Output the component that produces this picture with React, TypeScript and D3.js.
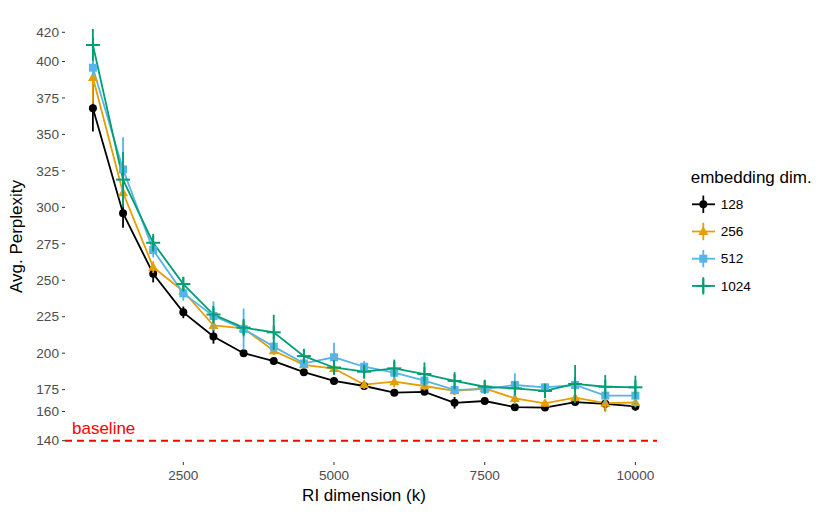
import * as d3 from 'd3';

// RI dimension (k) on the x axis
const riDims = [1000, 1500, 2000, 2500, 3000, 3500, 4000, 4500, 5000, 5500, 6000, 6500, 7000, 7500, 8000, 8500, 9000, 9500, 10000];

const embeddingDims = ['128', '256', '512', '1024'];

// mean perplexity per series
const mean128 = [368, 296, 254.5, 228, 211.5, 200, 194.6, 187, 181, 177.5, 172.9, 173.5, 166, 167.2, 163, 162.7, 166.5, 165.3, 163.5];
const mean256 = [389, 310, 259, 242.5, 219, 217, 201.7, 192, 189.5, 178.5, 180.5, 177.5, 174.2, 175.8, 169, 165.6, 169.5, 165.7, 166.2];
const mean512 = [395.7, 326, 270.7, 241, 225.5, 216.6, 204.5, 193, 197.2, 190.7, 186.6, 181.2, 174.8, 175.3, 178.2, 176.6, 178.2, 170.9, 170.9];
const mean1024 = [411.3, 319, 275.7, 247.4, 226.5, 217.5, 214.3, 198, 190.2, 187.3, 189.6, 185.7, 181, 177, 175.9, 174.1, 178.9, 177, 176.6];

// spread (error bar half height) per series
const err128 = [16, 10, 6, 4, 5, 2, 2, 2, 2, 2, 2, 2, 4, 2, 2, 2, 2, 5, 3];
const err256 = [18, 8, 4, 3, 3, 4, 3, 2, 3, 3, 4, 3, 3, 3, 4, 2, 3, 6, 3];
const err512 = [5, 22, 5, 5, 10, 14, 4, 3, 10, 4, 4, 4, 3, 3, 8, 3, 5, 5, 8];
const err1024 = [11, 19, 6, 5, 6, 6, 12, 5, 5, 4, 6, 8, 6, 4, 3, 4, 13, 8, 8];

const baselineValue = 140;

const yTicks = [140, 160, 175, 200, 225, 250, 275, 300, 325, 350, 375, 400, 420];
const xTicks = [2500, 5000, 7500, 10000];

const colors = ['#000000', '#E69F00', '#56B4E9', '#009E73'];
const means = [mean128, mean256, mean512, mean1024];
const errs = [err128, err256, err512, err1024];

const WIDTH = 830;
const HEIGHT = 514;
const FONT = '"Liberation Sans", Arial, Helvetica, sans-serif';

function Marker({ kind, x, y, color }: { kind: number; x: number; y: number; color: string }) {
  if (kind === 0) return <circle cx={x} cy={y} r={4} fill={color} />;
  if (kind === 1) {
    const s = 5;
    return (
      <path
        d={`M${x},${y - s * 1.05} L${x + s},${y + s * 0.7} L${x - s},${y + s * 0.7} Z`}
        fill={color}
      />
    );
  }
  if (kind === 2) return <rect x={x - 4} y={y - 4} width={8} height={8} fill={color} />;
  return (
    <g stroke={color} strokeWidth={2}>
      <line x1={x - 7} x2={x + 7} y1={y} y2={y} />
      <line x1={x} x2={x} y1={y - 7} y2={y + 7} />
    </g>
  );
}

export default function App() {
  const x = d3.scaleLinear().domain([1000, 10000]).range([92.9, 635.4]);
  const y = d3.scaleLinear().domain([140, 420]).range([440.7, 32.3]);
  const panelLeft = 65;
  const panelRight = 663;

  const line = d3
    .line<number>()
    .x((_, i) => x(riDims[i]))
    .y((d) => y(d));

  return (
    <svg
      width={WIDTH}
      height={HEIGHT}
      style={{ position: 'absolute', left: 0, top: 0, background: '#fff' }}
      fontFamily={FONT}
    >
      {/* y axis */}
      {yTicks.map((t) => (
        <g key={t}>
          <line x1={panelLeft - 3} x2={panelLeft} y1={y(t)} y2={y(t)} stroke="#333" strokeWidth={1} />
          <text x={panelLeft - 6} y={y(t)} dy="0.35em" textAnchor="end" fontSize={13.6} fill="#4D4D4D">
            {t}
          </text>
        </g>
      ))}
      {/* x axis */}
      {xTicks.map((t) => (
        <g key={t}>
          <line x1={x(t)} x2={x(t)} y1={462} y2={465} stroke="#333" strokeWidth={1} />
          <text x={x(t)} y={480} textAnchor="middle" fontSize={13.6} fill="#4D4D4D">
            {t}
          </text>
        </g>
      ))}
      <text x={364} y={501} textAnchor="middle" fontSize={17} fill="#000">
        RI dimension (k)
      </text>
      <text
        transform={`translate(22, ${(32 + 441) / 2}) rotate(-90)`}
        textAnchor="middle"
        fontSize={17}
        fill="#000"
      >
        Avg. Perplexity
      </text>

      {/* baseline */}
      <line
        x1={panelLeft}
        x2={panelRight - 6}
        y1={y(baselineValue)}
        y2={y(baselineValue)}
        stroke="#FF0000"
        strokeWidth={2}
        strokeDasharray="7,5"
      />
      <text x={72} y={434} fontSize={17} fill="#FF0000">
        baseline
      </text>

      {/* lines */}
      {means.map((m, s) => (
        <path key={s} d={line(m) || ''} fill="none" stroke={colors[s]} strokeWidth={1.8} />
      ))}
      {/* point ranges */}
      {means.map((m, s) => (
        <g key={s}>
          {m.map((v, i) => (
            <g key={i}>
              <line
                x1={x(riDims[i])}
                x2={x(riDims[i])}
                y1={y(v - errs[s][i])}
                y2={y(v + errs[s][i])}
                stroke={colors[s]}
                strokeWidth={1.8}
              />
              <Marker kind={s} x={x(riDims[i])} y={y(v)} color={colors[s]} />
            </g>
          ))}
        </g>
      ))}

      {/* legend */}
      <text x={690.7} y={183.3} fontSize={17} fill="#000">
        embedding dim.
      </text>
      {embeddingDims.map((d, s) => {
        const cy = 204.3 + s * 27.2;
        return (
          <g key={d}>
            <line x1={692} x2={715} y1={cy} y2={cy} stroke={colors[s]} strokeWidth={1.8} />
            <line x1={703.3} x2={703.3} y1={cy - 8.7} y2={cy + 8.7} stroke={colors[s]} strokeWidth={1.8} />
            <Marker kind={s} x={703.3} y={cy} color={colors[s]} />
            <text x={720.7} y={cy} dy="0.35em" fontSize={13.6} fill="#000">
              {d}
            </text>
          </g>
        );
      })}
    </svg>
  );
}
